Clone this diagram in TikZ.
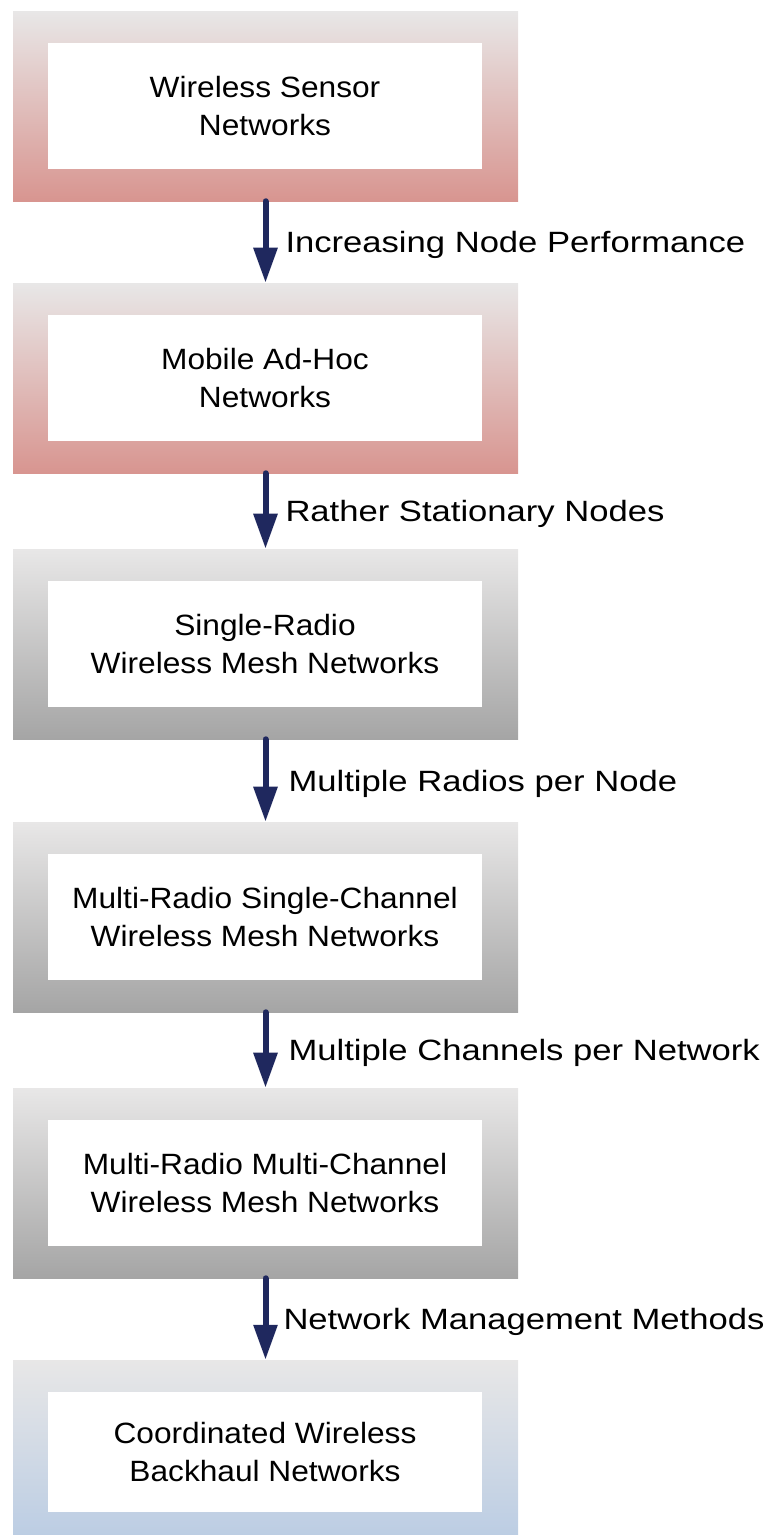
\documentclass[tikz,border=0pt]{standalone}
\usepackage{fontspec}
\setmainfont{Liberation Sans}
\newfontfamily\boxfont{Liberation Sans}[FakeStretch=1.08]
\newfontfamily\labfont{Liberation Sans}[FakeStretch=1.18]
\usetikzlibrary{arrows.meta}
\newcommand\pxu{0.75pt}
\definecolor{navy}{RGB}{31,40,94}
\definecolor{topgrey}{RGB}{232,231,231}
\definecolor{redbot}{RGB}{216,149,144}
\definecolor{greybot}{RGB}{165,165,165}
\definecolor{bluebot}{RGB}{184,203,227}
\tikzset{
  frame/.style={draw=none, inner sep=0pt, minimum width=505*\pxu, minimum height=190*\pxu, top color=topgrey},
  redframe/.style={frame, bottom color=redbot},
  greyframe/.style={frame, bottom color=greybot},
  blueframe/.style={frame, bottom color=bluebot},
  stage/.style={fill=white, draw=none, inner sep=0pt, minimum width=434*\pxu, minimum height=126*\pxu,
    align=center, font=\boxfont\fontsize{22pt}{28.2pt}\selectfont},
  flow/.style={draw=navy, line width=6*\pxu, line cap=round, -{Triangle[width=23*\pxu, length=35*\pxu]}},
  steplabel/.style={anchor=west, inner sep=0pt, yshift=-3*\pxu, font=\labfont\fontsize{22pt}{26pt}\selectfont}
}
\begin{document}
\begin{tikzpicture}[x=\pxu, y=-\pxu]
\useasboundingbox (0,0) rectangle (774,1535);
\clip (0,0) rectangle (774,1535);
% outer shaded frames
\node[redframe]  (f1) at (265.5,106)  {};
\node[redframe]  (f2) at (265.5,378)  {};
\node[greyframe] (f3) at (265.5,644)  {};
\node[greyframe] (f4) at (265.5,917)  {};
\node[greyframe] (f5) at (265.5,1183) {};
\node[blueframe] (f6) at (265.5,1455) {};
% white stage boxes
\node[stage] (s1) at (265,106)  {Wireless Sensor\\Networks};
\node[stage] (s2) at (265,378)  {Mobile Ad-Hoc\\Networks};
\node[stage] (s3) at (265,644)  {Single-Radio\\Wireless Mesh Networks};
\node[stage] (s4) at (265,917)  {Multi-Radio Single-Channel\\Wireless Mesh Networks};
\node[stage] (s5) at (265,1183) {Multi-Radio Multi-Channel\\Wireless Mesh Networks};
\node[stage, minimum height=120*\pxu] (s6) at (265,1452) {Coordinated Wireless\\Backhaul Networks};
% transitions
\draw[flow] (f1.south) -- (f2.north) node[midway, xshift=17*\pxu, steplabel] (l1) {Increasing Node Performance};
\draw[flow] (f2.south) -- (f3.north) node[midway, xshift=17*\pxu, steplabel] (l2) {Rather Stationary Nodes};
\draw[flow] (f3.south) -- (f4.north) node[midway, xshift=20*\pxu, steplabel] (l3) {Multiple Radios per Node};
\draw[flow] (f4.south) -- (f5.north) node[midway, xshift=20*\pxu, steplabel] (l4) {Multiple Channels per Network};
\draw[flow] (f5.south) -- (f6.north) node[midway, xshift=15*\pxu, steplabel] (l5) {Network Management Methods};
\end{tikzpicture}
\end{document}
